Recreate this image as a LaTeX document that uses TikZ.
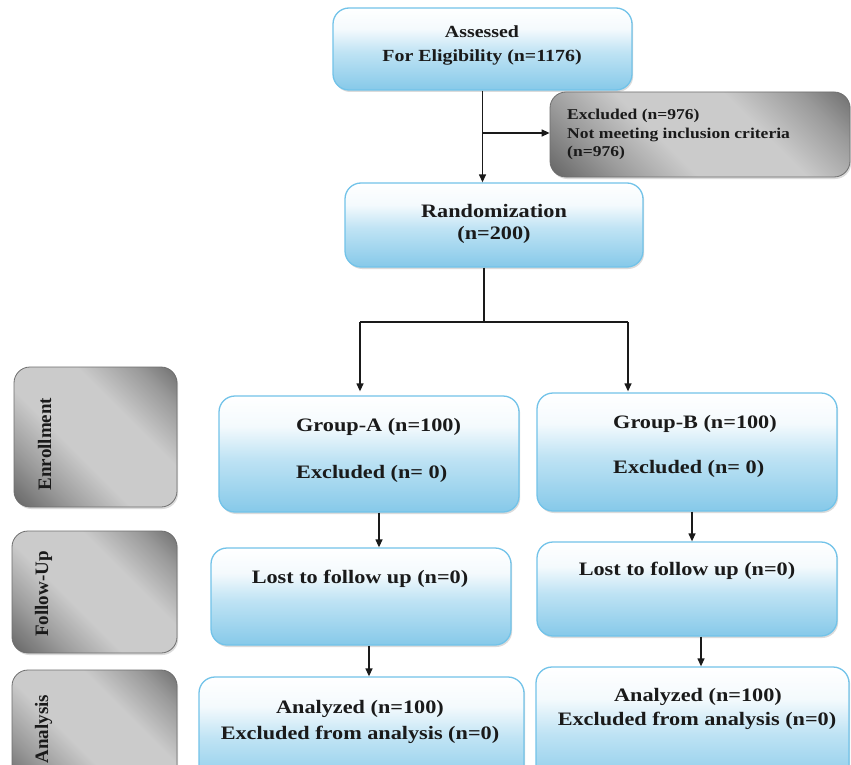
\documentclass[tikz,border=0pt]{standalone}
\usepackage{fontspec}
\setmainfont[FakeStretch=1.17]{Liberation Serif}
\newfontfamily\sidefont{Liberation Serif}
\usetikzlibrary{shadows,arrows.meta}
\definecolor{bbord}{HTML}{72C3E9}
\definecolor{bbot}{HTML}{86C9E9}
\definecolor{bmid}{HTML}{BFE3F4}
\definecolor{btop}{HTML}{F4FAFD}
\definecolor{gdark}{HTML}{5A5A5A}
\definecolor{gmid}{HTML}{9A9A9A}
\definecolor{glight}{HTML}{CBCBCB}
\definecolor{gbord}{HTML}{6E6E6E}
\definecolor{inkc}{HTML}{1A1A1A}
\pgfdeclareverticalshading{bluegrad}{100bp}{color(0bp)=(bbot); color(25bp)=(bbot); color(48bp)=(bmid); color(62bp)=(btop); color(75bp)=(white); color(100bp)=(white)}
\pgfdeclarehorizontalshading{grayband}{100bp}{color(0bp)=(gdark); color(12bp)=(gdark); color(28bp)=(gmid); color(42bp)=(glight); color(62bp)=(glight); color(76bp)=(gmid); color(90bp)=(gdark); color(100bp)=(gdark)}
\newcommand\fsz[1]{\fontsize{#1}{#1}\selectfont}
\tikzset{
  bluebox/.style={draw=bbord, line width=1.3pt, rounded corners=16pt, shading=bluegrad,
    drop shadow={shadow xshift=1.2pt, shadow yshift=-2pt, opacity=0.28}, inner sep=0pt},
  graybox/.style={draw=gbord, line width=0.8pt, rounded corners=16pt, shading=grayband, shading angle=45,
    drop shadow={shadow xshift=1.2pt, shadow yshift=-2pt, opacity=0.28}, inner sep=0pt},
  txt/.style={inner sep=0pt, anchor=base, text=inkc, font=\bfseries\fsz{19}},
  txtl/.style={txt, anchor=base west},
  side/.style={inner sep=0pt, anchor=base, rotate=90, text=inkc, font=\sidefont\bfseries\fsz{19}},
  conn/.style={draw=inkc, line width=1.3pt},
  arr/.style={conn, -{Triangle[length=8pt,width=7pt]}}
}
\begin{document}
\begin{tikzpicture}[x=1pt,y=-1pt]
\useasboundingbox (0,0) rectangle (851,765);
\clip (0,0) rectangle (851,765);
\fill[white] (0,0) rectangle (851,765);

% top boxes
\node[bluebox, minimum width=299pt, minimum height=82pt] (assess) at (482.5,49) {};
\node[txt, font=\bfseries\fsz{17}] (assessT1) at (482,38) {Assessed};
\node[txt, font=\bfseries\fsz{17}] (assessT2) at (482,62) {For Eligibility (n=1176)};

\node[graybox, minimum width=300pt, minimum height=85pt] (excl) at (700,134.5) {};
\node[txtl, font=\bfseries\fsz{15}] (exclT1) at (567,120) {Excluded (n=976)};
\node[txtl, font=\bfseries\fsz{15}] (exclT2) at (567,138.5) {Not meeting inclusion criteria};
\node[txtl, font=\bfseries\fsz{15}] (exclT3) at (567,157) {(n=976)};

\node[bluebox, minimum width=298pt, minimum height=84pt] (rand) at (494,225) {};
\node[txt] (randT1) at (494,217) {Randomization};
\node[txt] (randT2) at (494,239) {(n=200)};

% side labels
\node[graybox, minimum width=163pt, minimum height=140pt] (sEnr) at (95.5,437) {};
\node[side] (sEnrT) at (51,444) {Enrollment};
\node[graybox, minimum width=165pt, minimum height=122pt] (sFol) at (94.5,592) {};
\node[side] (sFolT) at (48,594) {Follow-Up};
\node[graybox, minimum width=165pt, minimum height=120pt] (sAna) at (94.5,730) {};
\node[side] (sAnaT) at (48,729) {Analysis};

% group A column
\node[bluebox, minimum width=300pt, minimum height=116pt] (gA) at (369,454) {};
\node[txtl] (gAT1) at (296,431) {Group-A (n=100)};
\node[txtl] (gAT2) at (296,478) {Excluded (n= 0)};
\node[bluebox, minimum width=300pt, minimum height=97pt] (lA) at (361,596.5) {};
\node[txt] (lAT) at (360,583) {Lost to follow up (n=0)};
\node[bluebox, minimum width=325pt, minimum height=113pt] (aA) at (361.5,733.5) {};
\node[txt] (aAT1) at (360,713) {Analyzed (n=100)};
\node[txt] (aAT2) at (360,739) {Excluded from analysis (n=0)};

% group B column
\node[bluebox, minimum width=300pt, minimum height=118pt] (gB) at (687,452) {};
\node[txtl] (gBT1) at (613,428) {Group-B (n=100)};
\node[txtl] (gBT2) at (613,473) {Excluded (n= 0)};
\node[bluebox, minimum width=300pt, minimum height=94pt] (lB) at (687,589) {};
\node[txt] (lBT) at (687,575) {Lost to follow up (n=0)};
\node[bluebox, minimum width=313pt, minimum height=123pt] (aB) at (692.5,728.5) {};
\node[txt] (aBT1) at (698,701) {Analyzed (n=100)};
\node[txt] (aBT2) at (697,725) {Excluded from analysis (n=0)};

% connectors
\coordinate (jx) at (482.5,133);
\coordinate (rsplit) at (484,322);
\coordinate (bl) at (360,322);
\coordinate (br) at (628,322);
\coordinate (cA1) at (379,0);
\coordinate (cA2) at (369,0);
\coordinate (cB1) at (692,0);
\coordinate (cB2) at (701,0);

\draw[arr] (assess.south) -- (rand.north -| assess.south);
\draw[arr] (jx) -- (excl.west |- jx);
\draw[conn] (rand.south -| rsplit) -- (rsplit);
\draw[conn] (bl) -- (br);
\draw[arr] (bl) -- ([yshift=4pt]gA.north -| bl);
\draw[arr] (br) -- ([yshift=1pt]gB.north -| br);
\draw[arr] (gA.south -| cA1) -- (lA.north -| cA1);
\draw[arr] (lA.south -| cA2) -- (aA.north -| cA2);
\draw[arr] (gB.south -| cB1) -- (lB.north -| cB1);
\draw[arr] (lB.south -| cB2) -- (aB.north -| cB2);
\end{tikzpicture}
\end{document}
